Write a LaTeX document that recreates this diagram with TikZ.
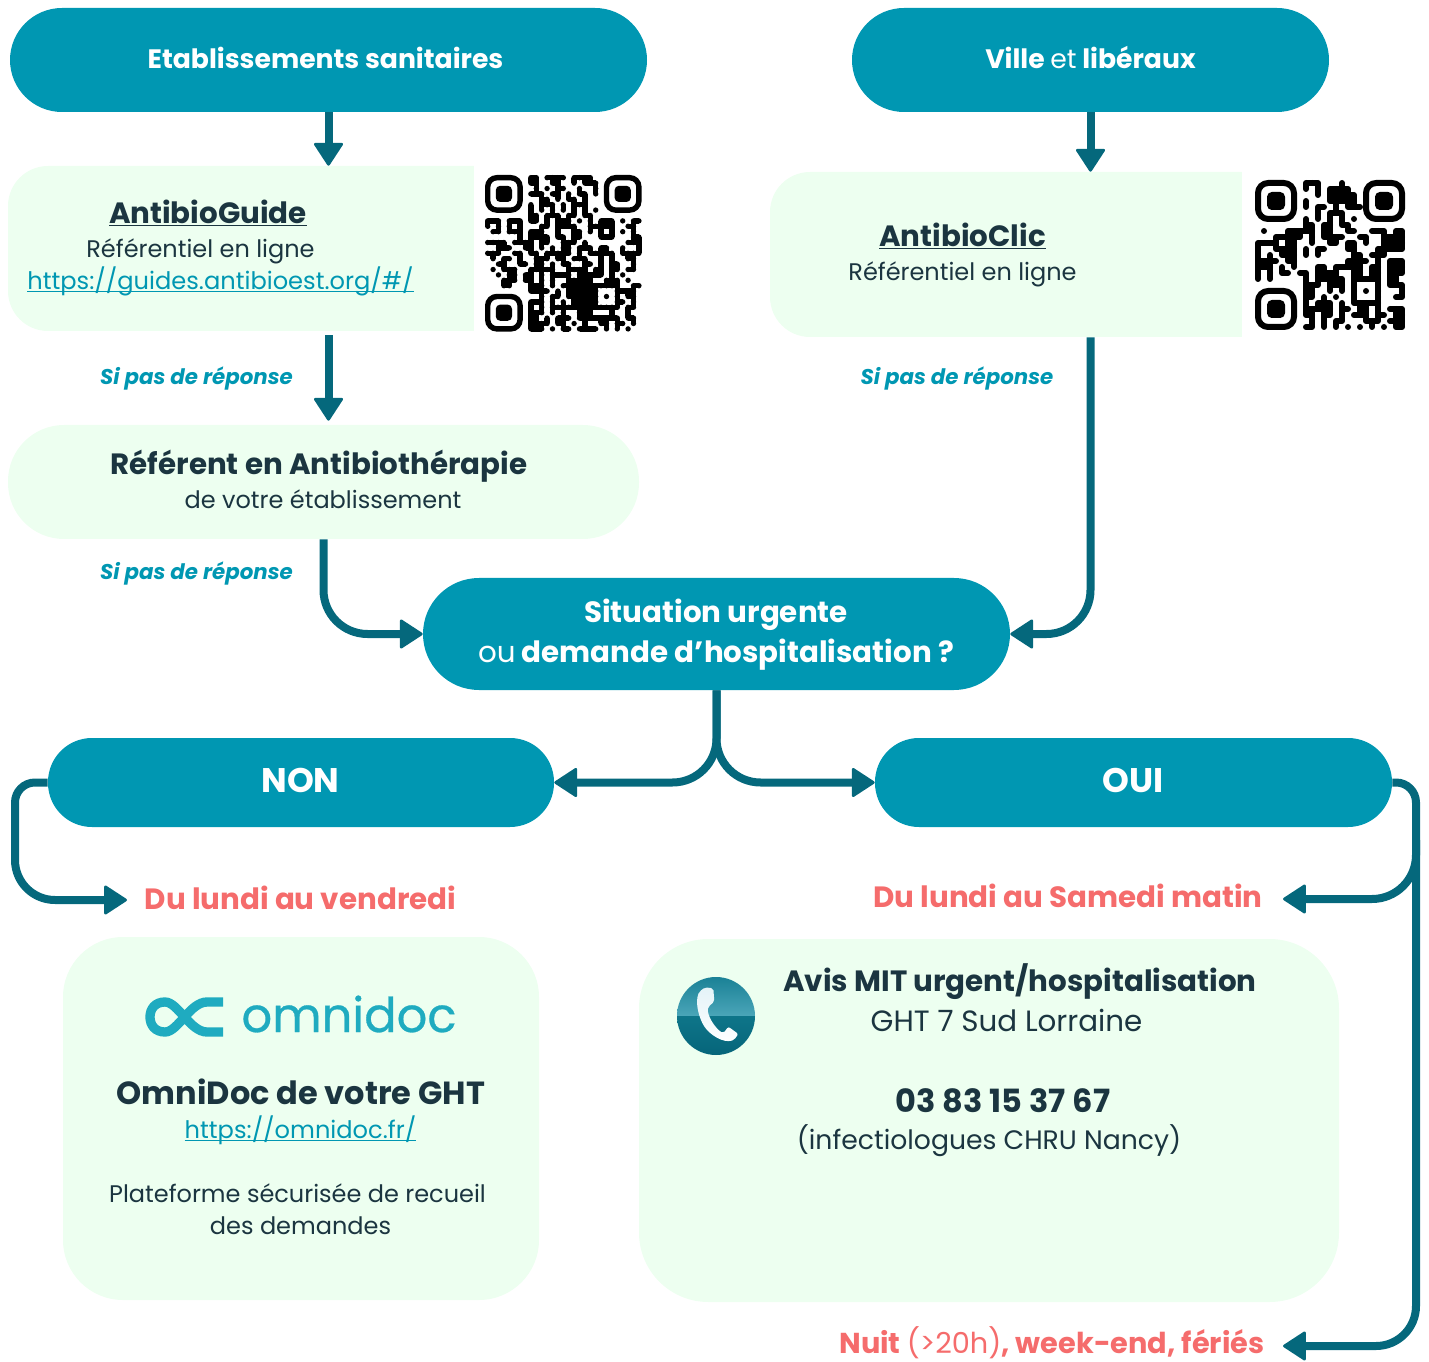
\documentclass[tikz,border=0pt]{standalone}
\usepackage{fontspec}
\setmainfont{Poppins}
\usetikzlibrary{arrows.meta}
\definecolor{teal}{HTML}{0097B2}
\definecolor{darrow}{HTML}{05687C}
\definecolor{lightb}{HTML}{EDFFF0}
\definecolor{salmon}{HTML}{F56C6C}
\definecolor{dtext}{HTML}{1B3540}
\definecolor{logoc}{HTML}{1FABC0}
\definecolor{phA}{HTML}{06657A}
\definecolor{phB}{HTML}{0E7589}
\definecolor{phC}{HTML}{4AA5B8}
\definecolor{phD}{HTML}{1A8196}
\definecolor{phE}{HTML}{E4F3F8}
\pgfdeclareverticalshading{phonesh}{100bp}{color(0bp)=(phA); color(25bp)=(phA); color(50bp)=(phB); color(50.5bp)=(phC); color(75bp)=(phD); color(100bp)=(phD)}
\newcommand\fsz[1]{\fontsize{#1}{#1}\selectfont}
\newcommand\ulin[1]{\leavevmode\setbox0\hbox{#1}\rlap{\rule[-2.4pt]{\wd0}{.9pt}}\box0}
% --- QR helper
\newcount\qrR \newcount\qrC
\def\qrp{a}
\def\qrcell{%
  \expandafter\gdef\csname\qrp-\the\qrR-\the\qrC\endcsname{}%
  \fill (\the\qrC+.5,\the\qrR+.5) circle (.5);%
  \ifcsname\qrp-\the\qrR-\the\numexpr\qrC-1\relax\endcsname
    \fill (\the\qrC-.5,\the\qrR) rectangle (\the\qrC+.5,\the\qrR+1);\fi
  \ifcsname\qrp-\the\numexpr\qrR-1\relax-\the\qrC\endcsname
    \fill (\the\qrC,\the\qrR-.5) rectangle (\the\qrC+1,\the\qrR+.5);\fi}
\def\qrscan#1{\ifx#1\relax\let\qrnext\relax\else\if#1x\qrcell\fi\advance\qrC by 1 \let\qrnext\qrscan\fi\qrnext}
\newcommand\qrrow[1]{\qrC=0 \qrscan#1\relax\advance\qrR by 1 }
\newcommand\qrfinder[2]{%
  \draw[line width=.75pt*\qrm,rounded corners=1.7*.75pt*\qrm] (#1+.5,#2+.5) rectangle (#1+6.5,#2+6.5);
  \fill[rounded corners=.8*.75pt*\qrm] (#1+2,#2+2) rectangle (#1+5,#2+5);}
\tikzset{
  pill/.style n args={3}{fill=#3,draw=none,inner sep=0pt,minimum width=#1*.75pt,minimum height=#2*.75pt,rectangle},
  conn/.style={draw=darrow,line width=6pt},
  tip/.style={-{Triangle[length=18pt,width=23pt,line width=2pt,round]}},
  title/.style={text=white,font=\fsz{20}\bfseries,inner sep=0pt},
  dark/.style={text=dtext,inner sep=0pt},
  maybe/.style={text=teal,font=\fsz{16}\bfseries\itshape,inner sep=0pt},
  alert/.style={text=salmon,font=\fsz{22}\bfseries,inner sep=0pt},
}
\begin{document}
\begin{tikzpicture}[x=.75pt,y=-.75pt]
\useasboundingbox (0,0) rectangle (1429,1362);
% boxes
\node[pill={637}{104}{teal},rounded corners=39pt] (etab) at (328.5,60) {};
\node[pill={477}{104}{teal},rounded corners=39pt] (ville) at (1090.5,60) {};
\node[pill={530}{165}{lightb},rounded corners=30pt] (guide) at (273,248.5) {};
\node[pill={536}{165}{lightb},rounded corners=30pt] (clic) at (1038,254.5) {};
\node[pill={631}{114}{lightb},rounded corners=42pt] (referent) at (323.5,482) {};
\node[pill={587}{112}{teal},rounded corners=42pt] (urgent) at (716.5,634) {};
\node[pill={506}{89}{teal},rounded corners=33pt] (non) at (301,782.5) {};
\node[pill={517}{89}{teal},rounded corners=33pt] (oui) at (1133.5,782.5) {};
\node[pill={476}{363}{lightb},rounded corners=45pt] (omni) at (301,1118.5) {};
\node[pill={700}{363}{lightb},rounded corners=52pt] (mit) at (989,1120.5) {};
% white backs of the QR codes
\fill[white] (474,160) rectangle (660,345);
\fill[white] (1242,165) rectangle (1420,345);
% QR 1
\begin{scope}[shift={(485,175)},x=4.05pt,y=-4.05pt]
\def\qrm{5.4}\def\qrp{a}\qrR=0
\qrfinder{0}{0}\qrfinder{22}{0}\qrfinder{0}{22}
\qrrow{........xx.xxxx.xxxx.........}
\qrrow{........xx..xx..x.xxx........}
\qrrow{.........x.x.xx..x..x........}
\qrrow{........xxx.xx.x.xx.x........}
\qrrow{..........xx.x.xx.x..........}
\qrrow{........x.xxx.x.xxx..........}
\qrrow{........x.x.x.x.x.x.x........}
\qrrow{........xx.xxx.xx.xx.........}
\qrrow{xxx.xxx.xx.x.xxx.x.x.xxx.x.xx}
\qrrow{x.x.x.x...xx.xxxx..xxxxx..xx.}
\qrrow{.xx.xxx.xxx..x..xx.x.x.x.x.x.}
\qrrow{......x.xxxx.xx.xx...xxx...xx}
\qrrow{xxxx.xxxx.xx..xxx.x.......xxx}
\qrrow{..xxx..xx.x.x.xx.xxx.xx..x..x}
\qrrow{xxx..xx.xx.xxxxx.x.xxxxx.xxxx}
\qrrow{.x.xx.x..xxx.xx.xxx..x.x..xx.}
\qrrow{..xx..xx.xx.x.xx..xx.x.xx..x.}
\qrrow{.x.xxx..xxxxx..xxxx.xx.xx.xx.}
\qrrow{..x.xx.xx.x.xxxx.xxxxx.x.x...}
\qrrow{...xxx.xx.x.x..xxxxx..xxx.x..}
\qrrow{...xx...xxx.x.xxxxxxxxxxx..xx}
\qrrow{........xxxx.x.xxxxxx...xxxx.}
\qrrow{..........x.xx.xxxxxx.x.x.xx.}
\qrrow{........xxx.x.x.xxxxx...xx.x.}
\qrrow{........x.x.xxxxxxxxxxxxx.xx.}
\qrrow{........xxx.x.x..xxx...x..x..}
\qrrow{........xx.x.xxx.xxxxxxxx.xx.}
\qrrow{........xxxx.xx.x.x..xx.xx.x.}
\qrrow{........xxx.x.xx.xxxx.x.x.x..}
\end{scope}
% QR 2
\begin{scope}[shift={(1255,180)},x=4.5pt,y=-4.5pt]
\def\qrm{6}\def\qrp{b}\qrR=0
\qrfinder{0}{0}\qrfinder{18}{0}\qrfinder{0}{18}
\qrrow{........xxx...x..........}
\qrrow{........x.x.xxxx.........}
\qrrow{..........x.xxxxx........}
\qrrow{........x...xxxxx........}
\qrrow{........x.xx.x.xxx.......}
\qrrow{..........x.xxx..........}
\qrrow{........x.x.x.x.x........}
\qrrow{........xx.xx.xx.........}
\qrrow{.x...xxxxx.xx..xx..xxx.xx}
\qrrow{...xxxxx.x.xxxx..xx..xxxx}
\qrrow{xxxx.xx..x..xx.xx.x..xxxx}
\qrrow{x..xxxx.x.xx...xx...xxxxx}
\qrrow{x.x.xxx.x.x.....xx.xxx...}
\qrrow{xxxx.xx........xxxx.x.xxx}
\qrrow{xxx.x.x...xx.xxxxx.xx.xxx}
\qrrow{x.x.xx.xx.xxxx..xx.xx.xxx}
\qrrow{x.x.....x.xxxxx.xxxxx.xx.}
\qrrow{........xxx.xxx.x...x.xxx}
\qrrow{........xx..x.x.x.x.x...x}
\qrrow{........xx.x.x..x...x..xx}
\qrrow{........x.xxx.x.xxxxx....}
\qrrow{........xxxxx.xx.xx.x.xxx}
\qrrow{........xx.xx.x.xxx.xx.xx}
\qrrow{.........x.x.xx...xxx.xxx}
\qrrow{........xx.x.x.x.x.x.x.xx}
\end{scope}
% free ends of connectors
\coordinate (nonend) at (127,900);
\coordinate (satend) at (1283,899);
\coordinate (nightend) at (1283,1346);
\coordinate (ouibranch) at (1416,840);
% connectors
\draw[conn,tip] (etab.south) -- (etab.south |- guide.north);
\draw[conn,tip] (ville.south) -- (ville.south |- clic.north);
\draw[conn,tip,shorten <=3pt,shorten >=3pt] (etab.south |- guide.south) -- (etab.south |- referent.north);
\draw[conn,tip,rounded corners=33pt] (referent.south) |- (urgent.west);
\draw[conn,tip,rounded corners=33pt] (ville.south |- clic.south) |- (urgent.east);
\draw[conn,tip,rounded corners=33pt] (urgent.south) |- (non.east);
\draw[conn,tip,rounded corners=33pt] (urgent.south) |- (oui.west);
\draw[conn,tip,rounded corners=15pt] (non.west) -- (15,782.5) [rounded corners=30pt] -- (15,900) -- (nonend);
\draw[conn,tip,rounded corners=15pt] (oui.east) -- (1416,782.5) [rounded corners=30pt] -- (1416,1346) -- (nightend);
\draw[conn,tip,rounded corners=33pt] (ouibranch) -- (1416,899) -- (satend);
% texts
\node[title] (t1) at (325.5,58) {Etablissements sanitaires};
\node[title] (t2) at (1090.5,58) {Ville {\mdseries et} libéraux};
\node[dark,font=\fsz{22}\bfseries] (g1) at (208,213) {\ulin{AntibioGuide}};
\node[dark,font=\fsz{18}] (g2) at (200.5,251) {Référentiel en ligne};
\node[text=teal,inner sep=0pt,font=\fsz{18.1}] (g3) at (220.5,281) {\ulin{https://guides.antibioest.org/\#/}};
\node[dark,font=\fsz{22}\bfseries] (c1) at (962.5,236) {\ulin{AntibioClic}};
\node[dark,font=\fsz{18}] (c2) at (962.5,274) {Référentiel en ligne};
\node[maybe] (m1) at (196.5,378) {Si pas de réponse};
\node[maybe] (m2) at (957,378) {Si pas de réponse};
\node[maybe] (m3) at (196.5,573) {Si pas de réponse};
\node[dark,font=\fsz{22}\bfseries] (r1) at (319,466) {Référent en Antibiothérapie};
\node[dark,font=\fsz{18}] (r2) at (323,499) {de votre établissement};
\node[title,font=\fsz{22}\bfseries] (u1) at (716,615) {Situation urgente};
\node[title,font=\fsz{22}\bfseries] (u2) at (716,655) {{\mdseries ou} demande d’hospitalisation ?};
\node[title,font=\fsz{25.6}\bfseries] (n1) at (300.5,780) {NON};
\node[title,font=\fsz{25.6}\bfseries] (o1) at (1133,780) {OUI};
\node[alert] (a1) at (300.5,898) {Du lundi au vendredi};
\node[alert] (a2) at (1068,896) {Du lundi au Samedi matin};
\node[alert,font=\fsz{21.6}\bfseries] (a3) at (1052,1342.5) {Nuit {\mdseries(>20h)}, week-end, fériés};
\node[dark,font=\fsz{24}\bfseries] (o2) at (301,1092) {OmniDoc de votre GHT};
\node[text=teal,inner sep=0pt,font=\fsz{18.1}] (o3) at (300.5,1130) {\ulin{https://omnidoc.fr/}};
\node[dark,font=\fsz{18}] (o4) at (297.5,1193) {Plateforme sécurisée de recueil};
\node[dark,font=\fsz{18}] (o5) at (300.5,1226) {des demandes};
\node[dark,font=\fsz{22}\bfseries] (i1) at (1020,982) {Avis MIT urgent/hospitalisation};
\node[dark,font=\fsz{22}] (i2) at (1006.5,1020) {GHT 7 Sud Lorraine};
\node[dark,font=\fsz{24}\bfseries] (i3) at (1003,1101) {03 83 15 37 67};
\node[dark,font=\fsz{20}] (i4) at (989,1141) {(infectiologues CHRU Nancy)};
% omnidoc logo
\node[text=logoc,inner sep=0pt,font=\fsz{36}\addfontfeature{FakeBold=0.6}] (logo) at (349,1014) {omnidoc};
\draw[logoc,line width=7pt] (223,1032) -- (207,1032) .. controls (190,1032) and (178,1002) .. (165,1002) .. controls (155,1002) and (150,1009) .. (150,1017) .. controls (150,1025) and (155,1032) .. (165,1032) .. controls (178,1032) and (190,1002) .. (207,1002) -- (223,1002);
% phone icon
\shade[shading=phonesh] (716,1016) circle (39);
\begin{scope}[shift={(660,960)},x=.25pt,y=-.25pt]
\shade[top color=phE,bottom color=white,rounded corners=1.5pt]
  (135,82) -- (160,85) -- (163,125) -- (145,140) .. controls (140,165) and (165,205) .. (190,220) -- (205,200) -- (235,222) -- (222,240) .. controls (190,250) and (150,225) .. (130,195) .. controls (115,165) and (105,125) .. (118,95) -- cycle;
\end{scope}
\end{tikzpicture}
\end{document}
